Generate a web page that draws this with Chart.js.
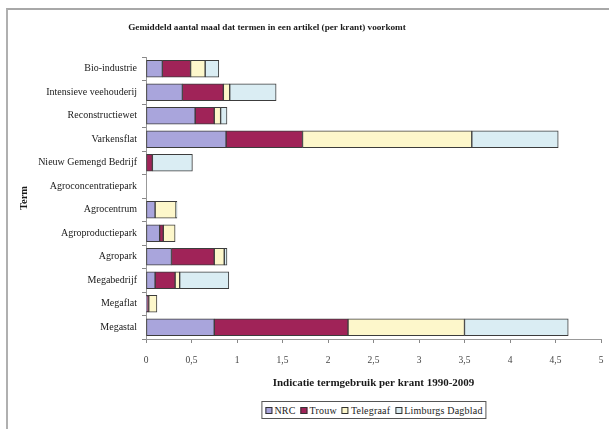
<!DOCTYPE html>
<html>
<head>
<meta charset="utf-8">
<script src="https://cdn.jsdelivr.net/npm/chart.js@4"></script>
<style>
  html, body { margin: 0; padding: 0; background: #fff; }
  #wrap { position: relative; width: 609px; height: 429px; overflow: hidden; background: #fff; }
  #frame { position: absolute; left: 6px; top: 8px; width: 700px; height: 600px;
           border-left: 2px solid #b0b0b0; border-top: 2px solid #a8a8a8; }
  #chart { position: absolute; left: 0; top: 0; }
  #legend { position: absolute; top: 401px; left: 374px; transform: translateX(-50%);
            height: 16px; border: 1px solid #555; background: #fff;
            display: flex; align-items: center; padding: 0 3px;
            font: 10px "Liberation Serif", serif; color: #222; white-space: nowrap; letter-spacing: 0.2px; }
  #legend span.item { display: flex; align-items: center; margin-right: 5px; }
  #legend span.item:last-child { margin-right: 0; }
  #legend i { display: inline-block; width: 5px; height: 5px; border: 1px solid #333; margin-right: 2px; }
</style>
</head>
<body>
<div id="wrap">
  <div id="frame"></div>
  <canvas id="chart" width="609" height="429"></canvas>
  <div id="legend"></div>
</div>
<script>
// Terms (categories), top to bottom
const terms = [
  'Bio-industrie', 'Intensieve veehouderij', 'Reconstructiewet', 'Varkensflat',
  'Nieuw Gemengd Bedrijf', 'Agroconcentratiepark', 'Agrocentrum', 'Agroproductiepark',
  'Agropark', 'Megabedrijf', 'Megaflat', 'Megastal'
];

// Average occurrences per article, per newspaper
const nrc       = [0.18, 0.40, 0.54, 0.88, 0.00, 0, 0.10, 0.15, 0.28, 0.10, 0.01, 0.75];
const trouw     = [0.31, 0.45, 0.21, 0.84, 0.07, 0, 0.00, 0.04, 0.47, 0.22, 0.02, 1.47];
const telegraaf = [0.16, 0.07, 0.07, 1.86, 0.00, 0, 0.23, 0.13, 0.11, 0.05, 0.09, 1.28];
const limburgs  = [0.15, 0.51, 0.07, 0.95, 0.44, 0, 0.01, 0.00, 0.03, 0.54, 0.00, 1.14];

const seriesNames = ['NRC', 'Trouw', 'Telegraaf', 'Limburgs Dagblad'];
const xTickLabels = ['0', '0,5', '1', '1,5', '2', '2,5', '3', '3,5', '4', '4,5', '5'];

const titleText  = 'Gemiddeld aantal maal dat termen in een artikel (per krant) voorkomt';
const xTitleText = 'Indicatie termgebruik per krant 1990-2009';
const yTitleText = 'Term';

const colors = ['#a9a5dc', '#a02358', '#fdf7cb', '#daedf3'];
const serif = '"Liberation Serif", "Times New Roman", serif';

const values = [nrc, trouw, telegraaf, limburgs];
const datasets = seriesNames.map((name, i) => ({
  label: name,
  data: values[i],
  backgroundColor: colors[i],
  borderColor: '#3c3c3c',
  borderWidth: 1,
  borderSkipped: false,
  barThickness: 17
}));

// Chart title, drawn above the plot
const titlePlugin = {
  id: 'topTitle',
  afterDraw(chart) {
    const ctx = chart.ctx;
    ctx.save();
    ctx.font = 'bold 9.2px ' + serif;
    ctx.fillStyle = '#1a1a1a';
    ctx.textAlign = 'center';
    ctx.textBaseline = 'middle';
    ctx.fillText(titleText, 267, 28);
    ctx.restore();
  }
};

new Chart(document.getElementById('chart'), {
  type: 'bar',
  data: { labels: terms, datasets },
  options: {
    indexAxis: 'y',
    responsive: false,
    animation: false,
    layout: { padding: { left: 10, right: 8, top: 57, bottom: 0 } },
    plugins: {
      legend: { display: false },
      title: { display: false },
      tooltip: { enabled: false }
    },
    scales: {
      x: {
        stacked: true,
        min: 0, max: 5,
        ticks: {
          stepSize: 0.5,
          autoSkip: false,
          maxRotation: 0,
          padding: 12,
          color: '#444',
          font: { family: serif, size: 9.5 },
          callback: (v, i) => xTickLabels[i]
        },
        grid: { drawOnChartArea: false, drawTicks: true, tickLength: 4, color: '#888' },
        border: { color: '#999', width: 1 },
        title: {
          display: true,
          text: xTitleText,
          color: '#1a1a1a',
          font: { family: serif, size: 11, weight: 'bold' },
          padding: { top: 0, bottom: 39 }
        },
        afterFit(scale) {
          scale.height = 90;
          scale.paddingLeft = 0;
          scale.paddingRight = 0;
        }
      },
      y: {
        stacked: true,
        ticks: {
          padding: 5,
          color: '#1a1a1a',
          font: { family: serif, size: 10 }
        },
        grid: { drawOnChartArea: false, drawTicks: true, tickLength: 4, color: '#888', offset: true },
        border: { color: '#999', width: 1 },
        title: {
          display: true,
          text: yTitleText,
          color: '#1a1a1a',
          font: { family: serif, size: 10.5, weight: 'bold' },
          padding: { top: 8, bottom: 0 }
        },
        afterFit(scale) { scale.width = 136; }
      }
    }
  },
  plugins: [titlePlugin]
});

// Legend below the axis title
const legendEl = document.getElementById('legend');
seriesNames.forEach((name, i) => {
  const item = document.createElement('span');
  item.className = 'item';
  const sw = document.createElement('i');
  sw.style.background = colors[i];
  item.appendChild(sw);
  item.appendChild(document.createTextNode(name));
  legendEl.appendChild(item);
});
</script>
</body>
</html>
